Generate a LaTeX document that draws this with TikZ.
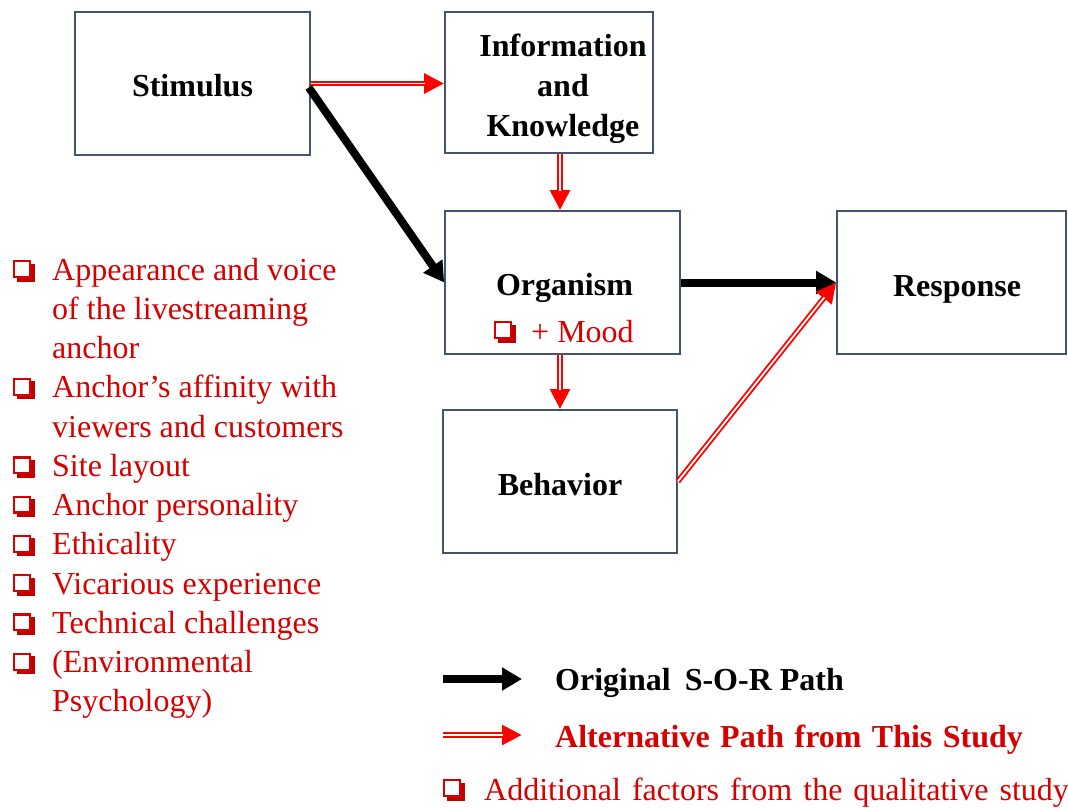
\documentclass[tikz,border=0pt]{standalone}
\usepackage{fontspec}
\setmainfont{Liberation Serif}
\usetikzlibrary{arrows.meta,calc}
\definecolor{boxc}{RGB}{68,84,106}
\definecolor{txtred}{RGB}{215,0,0}
\definecolor{arrred}{RGB}{255,0,0}
\newcommand\qb{\tikz[baseline=0pt,x=1pt,y=1pt]{%
  \fill[txtred!90!black] (3.5,-0.5) rectangle (21.5,17.5);
  \fill[white] (0,3) rectangle (18,21);
  \draw[txtred, line width=2.2pt] (1.1,4.1) rectangle (16.9,19.9);}}
\begin{document}
\begin{tikzpicture}[x=1pt,y=-1pt,
  box/.style={draw=boxc, line width=1.6pt, inner sep=0pt},
  btxt/.style={anchor=base, inner sep=0pt, font=\bfseries\fontsize{32}{40}\selectfont},
  blk/.style={line width=8pt, -{Triangle[length=20pt,width=22pt]}},
  dblA/.style={arrred, line width=5.5pt, -{Triangle[length=20pt,width=19pt]}},
  dblB/.style={white, line width=1.8pt, shorten >=19pt},
  lst/.style={anchor=base west, inner sep=0pt, text=txtred, font=\fontsize{32}{39.3}\selectfont},
  lgb/.style={anchor=base west, inner sep=0pt, font=\bfseries\fontsize{32}{40}\selectfont}]
\useasboundingbox (0,0) rectangle (1068,807);

% boxes
\node[box, minimum width=235pt, minimum height=143pt] (stim) at (192.5,83.5) {};
\node[box, minimum width=208pt, minimum height=141pt] (info) at (549,82.5) {};
\node[box, minimum width=235pt, minimum height=143pt] (org) at (562.5,282.5) {};
\node[box, minimum width=234pt, minimum height=143pt] (beh) at (560,481.5) {};
\node[box, minimum width=229pt, minimum height=143pt] (resp) at (951.5,282.5) {};

% box texts
\node[btxt] (stimt) at (192.5,96) {Stimulus};
\node[btxt] (infot1) at (563,56) {Information};
\node[btxt] (infot2) at (563,96) {and};
\node[btxt] (infot3) at (563,136) {Knowledge};
\node[btxt] (orgt) at (564.5,295) {Organism};
\node[lst] (moodb) at (494,342) {\qb};
\node[lst] (mood) at (531,342) {+ Mood};
\node[btxt] (beht) at (560,495) {Behavior};
\node[btxt] (respt) at (957,296) {Response};

% connectors
\draw[blk] ($(stim.east)+(-2,4)$) -- (org.west);
\draw[blk] (org.east) -- (resp.west);
\draw[dblA] (stim.east) -- (stim.east -| info.west);
\draw[dblB] (stim.east) -- (stim.east -| info.west);
\draw[dblA] (beh.north |- info.south) -- (beh.north |- org.north);
\draw[dblB] (beh.north |- info.south) -- (beh.north |- org.north);
\draw[dblA] (beh.north |- org.south) -- (beh.north);
\draw[dblB] (beh.north |- org.south) -- (beh.north);
\draw[dblA] (beh.east) -- (resp.west);
\draw[dblB] (beh.east) -- (resp.west);

% left list
\foreach \i/\t in {1/{Appearance and voice},2/{of the livestreaming},3/{anchor},
  4/{Anchor’s affinity with},5/{viewers and customers},6/{Site layout},
  7/{Anchor personality},8/{Ethicality},9/{Vicarious experience},
  10/{Technical challenges},11/{(Environmental},12/{Psychology)}}
  \node[lst] (l\i) at (52,{280+(\i-1)*39.27}) {\t};
\foreach \i in {1,4,6,7,8,9,10,11}
  \node[lst] (b\i) at (13,{281+(\i-1)*39.27}) {\qb};

% legend
\coordinate (k1a) at (443,679);
\coordinate (k1b) at (522,679);
\coordinate (k2a) at (443,735);
\coordinate (k2b) at (522,735);
\draw[blk] (k1a) -- (k1b);
\draw[dblA] (k2a) -- (k2b);
\draw[dblB] (k2a) -- (k2b);
\node[lgb] (lg1) at (555,690) {Original\hspace{6pt} S-O-R Path};
\node[lgb, text=txtred] (lg2) at (555,747) {\spaceskip=10.4pt Alternative Path from This Study};
\node[lst] (lg3b) at (443,800) {\qb};
\node[lst] (lg3) at (484,800) {\spaceskip=11pt Additional factors from the qualitative study};
\end{tikzpicture}
\end{document}
